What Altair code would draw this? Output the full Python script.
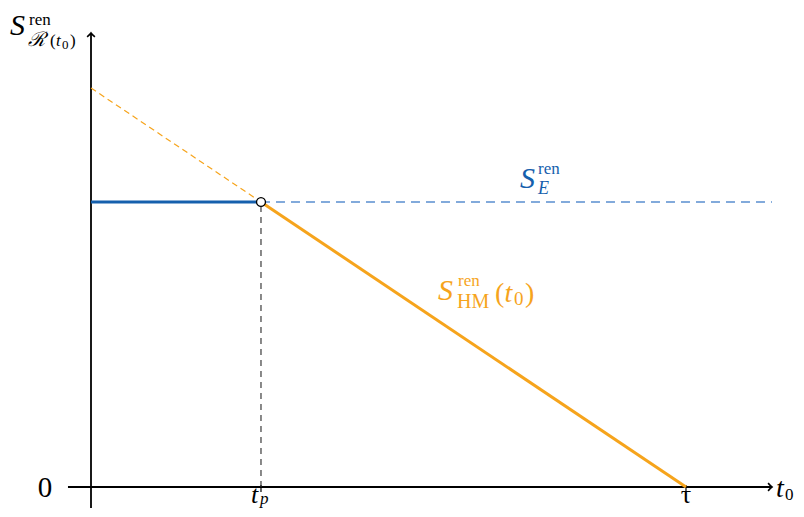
import altair as alt
import pandas as pd

# ---- data (in chart units) ----
TAU = 1.0          # end time tau
T_P = 0.2857       # t_p
S_E = 1.0          # S_E^ren level
S_HM_0 = 1.4       # S_HM^ren(0), linear down to 0 at tau

X_AXIS = [-0.0387, 1.1445]   # x axis extent (arrow at right end)
Y_AXIS = [-0.0737, 1.593]    # y axis extent (arrow at top end)
TICK_X = [T_P, TAU]

X_DOMAIN = [-0.1395, 1.1849]
Y_DOMAIN = [-0.0772, 1.6807]

BLUE = "#1660ad"
BLUE_LIGHT = "#5a8fd0"
ORANGE = "#f6a41c"
FONT = "'Liberation Serif', 'DejaVu Serif', serif"

xs = alt.Scale(domain=X_DOMAIN, nice=False, zero=False)
ys = alt.Scale(domain=Y_DOMAIN, nice=False, zero=False)


def seg(x, x2, y, y2, color, width, dash=None):
    df = pd.DataFrame({"x": [x], "x2": [x2], "y": [y], "y2": [y2]})
    kw = dict(color=color, strokeWidth=width)
    if dash:
        kw["strokeDash"] = dash
    return alt.Chart(df).mark_rule(**kw).encode(
        x=alt.X("x:Q", scale=xs, axis=None),
        x2="x2",
        y=alt.Y("y:Q", scale=ys, axis=None),
        y2="y2",
    )


def txt(s, x, y, size, color="black", style="normal", align="left"):
    df = pd.DataFrame({"t": [s], "x": [x], "y": [y]})
    return alt.Chart(df).mark_text(
        fontSize=size, color=color, fontStyle=style, align=align, baseline="alphabetic", font=FONT
    ).encode(
        x=alt.X("x:Q", scale=xs, axis=None),
        y=alt.Y("y:Q", scale=ys, axis=None),
        text="t:N",
    )


def arrow(x, y, angle):
    df = pd.DataFrame({"x": [x], "y": [y]})
    return alt.Chart(df).mark_point(
        shape="M-1.1,-1.1Q-0.35,-0.25,0,0Q-0.35,0.25,-1.1,1.1",
        filled=False, stroke="black", strokeWidth=1.6, size=50, angle=angle, opacity=1,
    ).encode(
        x=alt.X("x:Q", scale=xs, axis=None),
        y=alt.Y("y:Q", scale=ys, axis=None),
    )


layers = [
    # axes
    seg(X_AXIS[0], X_AXIS[1], 0, 0, "black", 1.8),
    seg(0, 0, Y_AXIS[0], Y_AXIS[1], "black", 1.8),
    arrow(X_AXIS[1], 0, 0),
    arrow(0, Y_AXIS[1], 270),
    # ticks
    seg(TICK_X[0], TICK_X[0], 0.007, -0.0175, "black", 1.2),
    seg(TICK_X[1], TICK_X[1], 0.007, -0.0175, "black", 1.2),
    # vertical dashed at t_p
    seg(T_P, T_P, 0, S_E, "#2a2a2a", 1.1, [6, 5]),
    # orange dashed extension
    seg(0, T_P, S_HM_0, S_E, ORANGE, 1.2, [6, 4]),
    # blue dashed continuation
    seg(T_P, X_AXIS[1], S_E, S_E, BLUE_LIGHT, 1.3, [9, 6]),
    # blue solid
    seg(0, T_P, S_E, S_E, BLUE, 3),
    # orange solid
    seg(T_P, TAU, S_E, 0, ORANGE, 3),
]

circle = alt.Chart(pd.DataFrame({"x": [T_P], "y": [S_E]})).mark_point(
    shape="circle", filled=True, fill="white", stroke="black", strokeWidth=1.3, size=80, opacity=1
).encode(
    x=alt.X("x:Q", scale=xs, axis=None),
    y=alt.Y("y:Q", scale=ys, axis=None),
)
layers.append(circle)

# labels (left-aligned, alphabetic baseline)
layers += [
    # y axis label S^ren_{R(t0)}
    txt("S", -0.1361, 1.586, 30, style="italic"),
    txt("ren", -0.1042, 1.621, 17),
    txt("ℛ", -0.1059, 1.547, 20, style="italic"),
    txt("(", -0.0689, 1.547, 17),
    txt("t", -0.0588, 1.547, 17, style="italic"),
    txt("0", -0.0487, 1.5368, 13),
    txt(")", -0.0353, 1.547, 17),
    # S_E^ren
    txt("S", 0.7210, 1.049, 30, color=BLUE, style="italic"),
    txt("ren", 0.7513, 1.0982, 17, color=BLUE),
    txt("E", 0.7513, 1.0281, 18, color=BLUE, style="italic"),
    # S_HM^ren(t0)
    txt("S", 0.5832, 0.6561, 30, color=ORANGE, style="italic"),
    txt("ren", 0.6168, 0.7053, 17, color=ORANGE),
    txt("HM", 0.6151, 0.6281, 20, color=ORANGE),
    txt("(", 0.6790, 0.6491, 28, color=ORANGE),
    txt("t", 0.6950, 0.6491, 28, color=ORANGE, style="italic"),
    txt("0", 0.7109, 0.6386, 19, color=ORANGE),
    txt(")", 0.7294, 0.6491, 28, color=ORANGE),
    # tick labels
    txt("0", -0.0773, -0.0351, 29, align="center"),
    txt("t", 0.2689, -0.0561, 26, style="italic"),
    txt("p", 0.2840, -0.0596, 17, style="italic"),
    txt("τ", TAU, -0.0561, 26, align="center"),
    txt("t", 1.1513, -0.0351, 28, style="italic"),
    txt("0", 1.1664, -0.0456, 17),
]

chart = alt.layer(*layers).properties(
    width=788, height=501, padding=0, autosize=alt.AutoSizeParams(type="none")
).configure_view(stroke=None)

chart.save("out.html", embed_options={"renderer": "svg", "actions": False})
